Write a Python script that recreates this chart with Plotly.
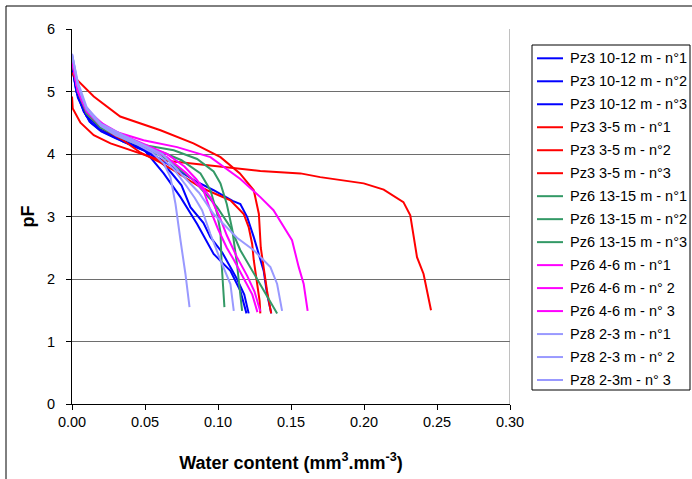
import plotly.graph_objects as go

# ---- data ----
names = [
    "Pz3 10-12 m - n°1", "Pz3 10-12 m - n°2", "Pz3 10-12 m - n°3",
    "Pz3 3-5 m - n°1", "Pz3 3-5 m - n°2", "Pz3 3-5 m - n°3",
    "Pz6 13-15 m - n°1", "Pz6 13-15 m - n°2", "Pz6 13-15 m - n°3",
    "Pz6 4-6 m - n°1", "Pz6 4-6 m - n° 2", "Pz6 4-6 m - n° 3",
    "Pz8 2-3 m - n°1", "Pz8 2-3 m - n° 2", "Pz8 2-3m - n° 3",
]

pz3_10_1_x = [0.0, 0.003, 0.008, 0.012, 0.02, 0.03, 0.045, 0.05, 0.0628, 0.0743, 0.0857, 0.097, 0.1085, 0.1153, 0.1195]
pz3_10_1_y = [5.45, 5.0, 4.7, 4.52, 4.36, 4.25, 4.1, 4.05, 3.69, 3.31, 2.88, 2.40, 2.13, 1.81, 1.45]
pz3_10_2_x = [0.0, 0.003, 0.008, 0.013, 0.02, 0.03, 0.045, 0.055, 0.065, 0.075, 0.085, 0.097, 0.11, 0.1153, 0.12, 0.1245, 0.129, 0.1313, 0.1336, 0.1365]
pz3_10_2_y = [5.4, 5.0, 4.68, 4.5, 4.37, 4.26, 4.12, 4.0, 3.85, 3.7, 3.56, 3.42, 3.25, 3.2, 2.99, 2.67, 2.30, 2.13, 1.76, 1.45]
pz3_10_3_x = [0.0, 0.004, 0.01, 0.02, 0.035, 0.05, 0.06, 0.068, 0.075, 0.0811, 0.09, 0.0948, 0.103, 0.108, 0.113, 0.118, 0.121]
pz3_10_3_y = [5.4, 4.9, 4.6, 4.4, 4.2, 4.05, 3.9, 3.7, 3.5, 3.15, 2.9, 2.67, 2.42, 2.22, 2.0, 1.75, 1.45]

pz3_35_1_x = [0.0, 0.002, 0.0149, 0.033, 0.0606, 0.0832, 0.1017, 0.115, 0.1245, 0.128, 0.1293, 0.131, 0.1336, 0.1364]
pz3_35_1_y = [5.3, 5.22, 4.92, 4.6, 4.38, 4.17, 3.95, 3.69, 3.42, 3.04, 2.5, 2.2, 1.81, 1.45]
pz3_35_2_x = [0.0, 0.0005, 0.0058, 0.0149, 0.0264, 0.0378, 0.0469, 0.0606, 0.0743, 0.1, 0.1153, 0.129, 0.1565, 0.17, 0.1998, 0.2135, 0.227, 0.2317, 0.2363, 0.2408, 0.2459]
pz3_35_2_y = [4.92, 4.73, 4.5, 4.3, 4.17, 4.08, 4.02, 3.9, 3.87, 3.8, 3.76, 3.73, 3.69, 3.63, 3.53, 3.43, 3.23, 3.02, 2.35, 2.08, 1.5]
pz3_35_3_x = [0.0, 0.004, 0.01, 0.02, 0.035, 0.047, 0.06, 0.0695, 0.0857, 0.0925, 0.1085, 0.1176, 0.121, 0.1234, 0.1245, 0.127, 0.1285, 0.129]
pz3_35_3_y = [5.5, 5.0, 4.65, 4.42, 4.22, 4.02, 3.87, 3.74, 3.5, 3.42, 3.26, 3.04, 2.83, 2.56, 2.30, 1.9, 1.65, 1.45]

pz6_13_1_x = [0.0, 0.004, 0.01, 0.02, 0.035, 0.05, 0.0697, 0.0857, 0.097, 0.1017, 0.106, 0.1097, 0.113, 0.1165]
pz6_13_1_y = [5.5, 5.0, 4.65, 4.42, 4.25, 4.14, 4.06, 3.92, 3.72, 3.53, 3.2, 2.8, 2.24, 1.49]
pz6_13_2_x = [0.0, 0.004, 0.01, 0.02, 0.035, 0.05, 0.065, 0.075, 0.088, 0.0948, 0.0994, 0.1017, 0.1025, 0.1044]
pz6_13_2_y = [5.5, 5.0, 4.66, 4.42, 4.25, 4.12, 4.0, 3.9, 3.69, 3.42, 3.05, 2.75, 2.24, 1.55]
pz6_13_3_x = [0.0, 0.004, 0.01, 0.02, 0.035, 0.05, 0.065, 0.0834, 0.0994, 0.1085, 0.1153, 0.1268, 0.129, 0.1405]
pz6_13_3_y = [5.5, 5.0, 4.66, 4.42, 4.25, 4.1, 3.92, 3.58, 3.15, 2.83, 2.46, 2.0, 1.92, 1.45]

pz6_46_1_x = [0.0, 0.003, 0.008, 0.0149, 0.0264, 0.049, 0.072, 0.0948, 0.1153, 0.129, 0.138, 0.145, 0.1507, 0.1553, 0.1587, 0.1614]
pz6_46_1_y = [5.55, 5.1, 4.8, 4.6, 4.38, 4.22, 4.11, 3.95, 3.6, 3.31, 3.10, 2.83, 2.62, 2.19, 1.92, 1.49]
pz6_46_2_x = [0.0, 0.004, 0.01, 0.02, 0.035, 0.05, 0.065, 0.078, 0.09, 0.0948, 0.1, 0.106, 0.111, 0.118, 0.1235, 0.127]
pz6_46_2_y = [5.5, 5.0, 4.68, 4.45, 4.27, 4.12, 3.95, 3.7, 3.42, 3.10, 2.8, 2.5, 2.30, 2.0, 1.75, 1.47]
pz6_46_3_x = [0.0, 0.004, 0.01, 0.02, 0.035, 0.05, 0.065, 0.077, 0.085, 0.095, 0.101, 0.106, 0.113, 0.12, 0.125, 0.129]
pz6_46_3_y = [5.5, 5.05, 4.72, 4.5, 4.3, 4.15, 4.0, 3.8, 3.6, 3.3, 3.0, 2.7, 2.35, 2.05, 1.8, 1.48]

pz8_1_x = [0.0, 0.004, 0.01, 0.02, 0.03, 0.045, 0.055, 0.0628, 0.0674, 0.0709, 0.0743, 0.0777, 0.0805]
pz8_1_y = [5.6, 5.1, 4.72, 4.45, 4.3, 4.15, 4.02, 3.85, 3.63, 3.2, 2.62, 2.08, 1.55]
pz8_2_x = [0.0, 0.004, 0.01, 0.02, 0.035, 0.05, 0.06, 0.07, 0.078, 0.084, 0.0891, 0.0948, 0.1017, 0.1085, 0.1108]
pz8_2_y = [5.6, 5.1, 4.72, 4.45, 4.27, 4.12, 3.98, 3.75, 3.5, 3.3, 3.10, 2.72, 2.30, 1.92, 1.49]
pz8_3_x = [0.0, 0.004, 0.01, 0.02, 0.035, 0.05, 0.062, 0.0789, 0.087, 0.097, 0.105, 0.113, 0.1245, 0.1313, 0.1359, 0.1405, 0.1439]
pz8_3_y = [5.6, 5.15, 4.75, 4.48, 4.3, 4.14, 4.0, 3.58, 3.38, 3.04, 2.85, 2.66, 2.46, 2.30, 2.19, 1.92, 1.49]

series_x = [pz3_10_1_x, pz3_10_2_x, pz3_10_3_x, pz3_35_1_x, pz3_35_2_x, pz3_35_3_x,
            pz6_13_1_x, pz6_13_2_x, pz6_13_3_x, pz6_46_1_x, pz6_46_2_x, pz6_46_3_x,
            pz8_1_x, pz8_2_x, pz8_3_x]
series_y = [pz3_10_1_y, pz3_10_2_y, pz3_10_3_y, pz3_35_1_y, pz3_35_2_y, pz3_35_3_y,
            pz6_13_1_y, pz6_13_2_y, pz6_13_3_y, pz6_46_1_y, pz6_46_2_y, pz6_46_3_y,
            pz8_1_y, pz8_2_y, pz8_3_y]

x_ticks = [0.0, 0.05, 0.10, 0.15, 0.20, 0.25, 0.30]
y_ticks = [0, 1, 2, 3, 4, 5, 6]

# ---- styles ----
colors = ["#0000FF"] * 3 + ["#FF0000"] * 3 + ["#339966"] * 3 + ["#FF00FF"] * 3 + ["#9999FF"] * 3
FONT = "Arial, 'Liberation Sans', sans-serif"

W, H = 692, 479
ML, MR, MT, MB = 72, 182, 29, 75
PW, PH = W - ML - MR, H - MT - MB


def px_to_paper_x(px):
    return (px - ML) / PW


def px_to_paper_y(py):
    return (H - MB - py) / PH


fig = go.Figure()
for i, (n, xs, ys) in enumerate(zip(names, series_x, series_y)):
    fig.add_trace(go.Scatter(
        x=xs, y=ys, name=n, mode="lines",
        line=dict(color=colors[i], width=2),
        showlegend=False,
    ))

fig.update_layout(
    width=W, height=H,
    margin=dict(l=ML, r=MR, t=MT, b=MB),
    paper_bgcolor="white", plot_bgcolor="white",
    font=dict(family=FONT, size=14, color="black"),
    showlegend=False,
    xaxis=dict(
        range=[0, 0.30], tickvals=x_ticks, tickformat=".2f",
        showgrid=False, zeroline=False, automargin=False,
        showline=True, linecolor="black", linewidth=1,
        ticks="outside", ticklen=5, tickcolor="black",
        tickfont=dict(size=14.5),
        title=dict(text="<b>Water content (mm<sup>3</sup>.mm<sup>-3</sup>)</b>",
                   font=dict(size=18), standoff=26),
    ),
    yaxis=dict(
        range=[0, 6], tickvals=y_ticks,
        showgrid=True, gridcolor="#6e6e6e", gridwidth=1,
        zeroline=False, automargin=False,
        showline=True, linecolor="black", linewidth=1,
        ticks="outside", ticklen=5, tickcolor="black",
        ticklabelstandoff=8,
        tickfont=dict(size=14.5),
        title=dict(text="<b>pF</b>", font=dict(size=18), standoff=7),
    ),
)

# plot-area right border (gray) and outer chart frame
fig.add_shape(type="line", xref="x", yref="y", x0=0.30, x1=0.30, y0=0, y1=6,
              line=dict(color="#808080", width=1))
fig.add_shape(type="line", xref="paper", yref="paper",
              x0=px_to_paper_x(6), x1=px_to_paper_x(6), y0=px_to_paper_y(520), y1=px_to_paper_y(6),
              line=dict(color="black", width=1))
fig.add_shape(type="line", xref="paper", yref="paper",
              x0=px_to_paper_x(6), x1=px_to_paper_x(720), y0=px_to_paper_y(6), y1=px_to_paper_y(6),
              line=dict(color="black", width=1))

# legend box drawn by hand (native legend would push the plot margin)
LX0, LX1, LY0, LY1 = 532, 690, 45, 390
fig.add_shape(type="rect", xref="paper", yref="paper",
              x0=px_to_paper_x(LX0), x1=px_to_paper_x(LX1),
              y0=px_to_paper_y(LY1), y1=px_to_paper_y(LY0),
              line=dict(color="black", width=1), fillcolor="white", layer="below")
first_row, row_step = 58.3, 22.98
for i, n in enumerate(names):
    py = first_row + i * row_step
    fig.add_shape(type="line", xref="paper", yref="paper",
                  x0=px_to_paper_x(537), x1=px_to_paper_x(563),
                  y0=px_to_paper_y(py), y1=px_to_paper_y(py),
                  line=dict(color=colors[i], width=2))
    fig.add_annotation(text=n, xref="paper", yref="paper",
                       x=px_to_paper_x(568), y=px_to_paper_y(py),
                       xanchor="left", yanchor="middle", showarrow=False,
                       font=dict(family=FONT, size=14.5, color="black"))

fig.write_html("out.html", post_script="document.body.style.margin='0';",
               config={"displayModeBar": False})
